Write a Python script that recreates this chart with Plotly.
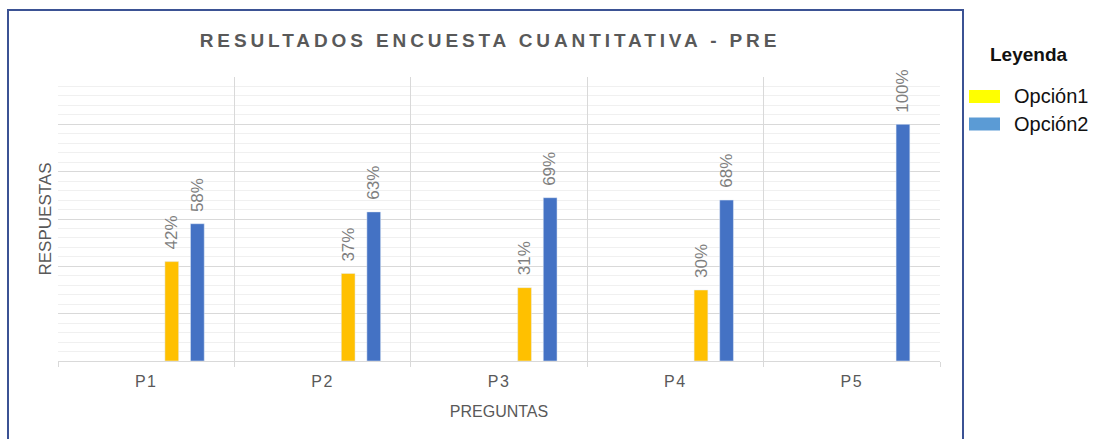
import plotly.graph_objects as go

categories = ["P1", "P2", "P3", "P4", "P5"]
opcion1 = [0.42, 0.37, 0.31, 0.30, None]
opcion2 = [0.58, 0.63, 0.69, 0.68, 1.00]
series_names = ["Opción1", "Opción2"]
bar_colors = ["#FFC000", "#4472C4"]
legend_colors = ["#FFFF00", "#5B9BD5"]

W, H = 1096, 439
L, R, T, B = 58, 940, 77, 361
CAT_PX = (R - L) / len(categories)

def px(x):
    return (x - L) / (R - L)

def py(y):
    return (B - y) / (B - T)

FONT = "Liberation Sans, Arial, Helvetica, sans-serif"
GREY = "#7F7F7F"
TXT = "#595959"

fig = go.Figure()
bar_w = 0.078
centers = [0.145, 0.29]
for vals, name, col, c in zip([opcion1, opcion2], series_names, bar_colors, centers):
    fig.add_trace(go.Bar(
        x=categories, y=vals, name=name, marker_color=col,
        width=bar_w, offset=c - bar_w / 2, showlegend=False,
    ))
    for cat, v in zip(categories, vals):
        if v is None:
            continue
        fig.add_annotation(
            x=cat, y=v, xref="x", yref="y", text=f"{round(v * 100)}%",
            textangle=-90, showarrow=False, xanchor="center", yanchor="bottom",
            xshift=c * CAT_PX, yshift=10,
            font=dict(family=FONT, size=17, color=GREY),
        )

fig.update_layout(
    width=W, height=H,
    margin=dict(l=L, r=W - R, t=T, b=H - B),
    paper_bgcolor="white", plot_bgcolor="white",
    barmode="overlay",
    showlegend=False,
    font=dict(family=FONT, color=TXT),
    title=dict(
        text="<b>RESULTADOS ENCUESTA CUANTITATIVA - PRE</b>",
        xref="container", yref="container", x=490 / W, y=1 - 40 / H,
        xanchor="center", yanchor="middle",
        font=dict(family=FONT, size=19, color=TXT),
    ),
    xaxis=dict(
        type="category", tickson="boundaries", ticks="outside", ticklen=5,
        tickcolor="#D9D9D9", showgrid=True, gridcolor="#D9D9D9", gridwidth=1,
        showline=True, linecolor="#D9D9D9", linewidth=1, automargin=False,
        ticklabelstandoff=6,
        tickfont=dict(family=FONT, size=16, color=TXT),
        title=dict(text="PREGUNTAS", font=dict(family=FONT, size=16, color=TXT), standoff=16),
    ),
    yaxis=dict(
        range=[0, 1.2], dtick=0.2, showticklabels=False, ticks="", automargin=False,
        showgrid=True, gridcolor="#D9D9D9", gridwidth=1, zeroline=False,
        minor=dict(dtick=0.04, showgrid=True, gridcolor="#F0F0F0", gridwidth=1),
        title=dict(text="RESPUESTAS", font=dict(family=FONT, size=17, color=TXT), standoff=1),
    ),
)

# outer frame
fig.add_shape(type="rect", xref="paper", yref="paper",
              x0=px(8), x1=px(963), y0=py(10), y1=py(450),
              line=dict(color="#3B5294", width=2), fillcolor="rgba(0,0,0,0)",
              layer="above")

# custom legend
fig.add_annotation(text="<b>Leyenda</b>", xref="paper", yref="paper",
                   x=px(1029), y=py(54), xanchor="center", yanchor="middle",
                   showarrow=False, font=dict(family=FONT, size=19, color="#111111"))
for i, (name, col) in enumerate(zip(series_names, legend_colors)):
    ytop = 90 + i * 27.5
    fig.add_shape(type="rect", xref="paper", yref="paper",
                  x0=px(969), x1=px(1000), y0=py(ytop), y1=py(ytop + 13),
                  line=dict(width=0), fillcolor=col)
    fig.add_annotation(text=name, xref="paper", yref="paper",
                       x=px(1012), y=py(ytop + 6.5), xanchor="left", yanchor="middle",
                       showarrow=False, font=dict(family=FONT, size=20, color="#111111"))

post = (
    "document.body.style.margin='0';"
    "document.querySelectorAll('.gtitle').forEach(function(e){e.style.letterSpacing='3.9px';});"
    "document.querySelectorAll('.xtick text').forEach(function(e){e.style.letterSpacing='1.5px';});"
)
fig.write_html("out.html", post_script=post, config={"displayModeBar": False})
